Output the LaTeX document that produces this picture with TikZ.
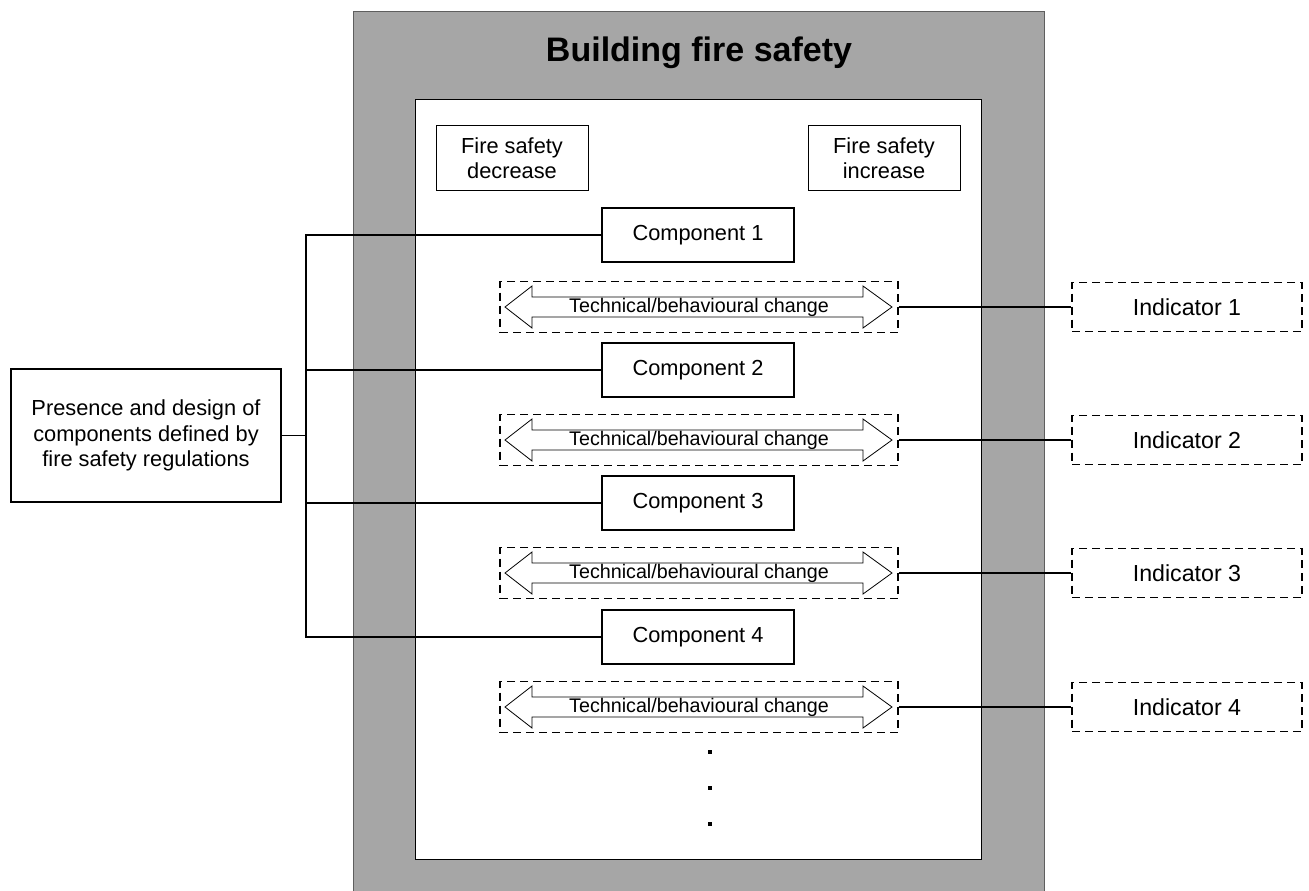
\documentclass[tikz,border=0pt]{standalone}
\usepackage{fontspec}
\setmainfont{Liberation Sans}
\definecolor{wallgrey}{HTML}{A6A6A6}
\definecolor{walledge}{HTML}{5E5E5E}
\begin{document}
\begin{tikzpicture}[x=1pt,y=-1pt,
  txt/.style={font=\fontsize{21.8}{25.5}\selectfont},
  comp/.style={txt, draw, line width=1.3pt, fill=white, minimum width=192pt, minimum height=54pt, inner sep=0pt},
  corner/.style={txt, draw, line width=0.8pt, fill=white, minimum width=152pt, minimum height=65pt, inner sep=0pt, align=center},
  changebox/.style={draw, dashed, dash pattern=on 8pt off 5pt, line width=1.3pt, minimum width=398pt, minimum height=51pt, inner sep=0pt, font=\fontsize{19.7}{22}\selectfont},
  indbox/.style={draw, dashed, dash pattern=on 8pt off 5pt, line width=1.3pt, minimum width=230pt, minimum height=49pt, inner sep=0pt, font=\fontsize{23.2}{26}\selectfont},
  regbox/.style={txt, draw, line width=1.3pt, fill=white, minimum width=270pt, minimum height=133pt, inner sep=0pt, align=center},
  link/.style={line width=1.3pt},
  dot/.style={fill=black, minimum size=4pt, inner sep=0pt}
]
\useasboundingbox (0,0) rectangle (1309,891);

% building walls and interior
\draw[fill=wallgrey, draw=walledge, line width=1pt] (353,12) rectangle (1044,900);
\draw[fill=white, line width=0.9pt] (415,99) rectangle (981,859);
\node[font=\fontsize{34}{38}\selectfont\bfseries] (title) at (699,53) {Building fire safety};

% direction labels
\node[corner] (dec) at (512,158) {Fire safety\\decrease};
\node[corner] (inc) at (884,158) {Fire safety\\increase};

% components
\node[comp] (c1) at (698,235) {Component 1};
\node[comp] (c2) at (698,370) {Component 2};
\node[comp] (c3) at (698,503) {Component 3};
\node[comp] (c4) at (698,637) {Component 4};

% double arrows for technical/behavioural change
\foreach \y in {307,440,573,707} {
  \draw[fill=white, line width=0.8pt]
    (505,\y) -- (532,\y-21) -- (532,\y-10) -- (863,\y-10) -- (863,\y-21)
    -- (892,\y) -- (863,\y+21) -- (863,\y+10) -- (532,\y+10) -- (532,\y+21) -- cycle;
}
\node[changebox] (t1) at (699,307) {Technical/behavioural change};
\node[changebox] (t2) at (699,440) {Technical/behavioural change};
\node[changebox] (t3) at (699,573) {Technical/behavioural change};
\node[changebox] (t4) at (699,707) {Technical/behavioural change};

% indicators
\node[indbox] (i1) at (1187,307) {Indicator 1};
\node[indbox] (i2) at (1187,440) {Indicator 2};
\node[indbox] (i3) at (1187,573) {Indicator 3};
\node[indbox] (i4) at (1187,707) {Indicator 4};
\foreach \k in {1,2,3,4} \draw[link] (t\k.east) -- (i\k.west);

% regulations and bus to the components
\node[regbox] (reg) at (146,435.5) {Presence and design of\\components defined by\\fire safety regulations};
\coordinate (bus) at (306,435.5);
\draw[line width=1.7pt] (reg.east) -- (bus);
\draw[link] (c1.west) -- (c1.west -| bus) -- (c4.west -| bus) -- (c4.west);
\draw[link] (c2.west) -- (c2.west -| bus);
\draw[link] (c3.west) -- (c3.west -| bus);

% continuation dots
\node[dot] (d1) at (710,752) {};
\node[dot] (d2) at (710,788) {};
\node[dot] (d3) at (710,824) {};
\end{tikzpicture}
\end{document}
